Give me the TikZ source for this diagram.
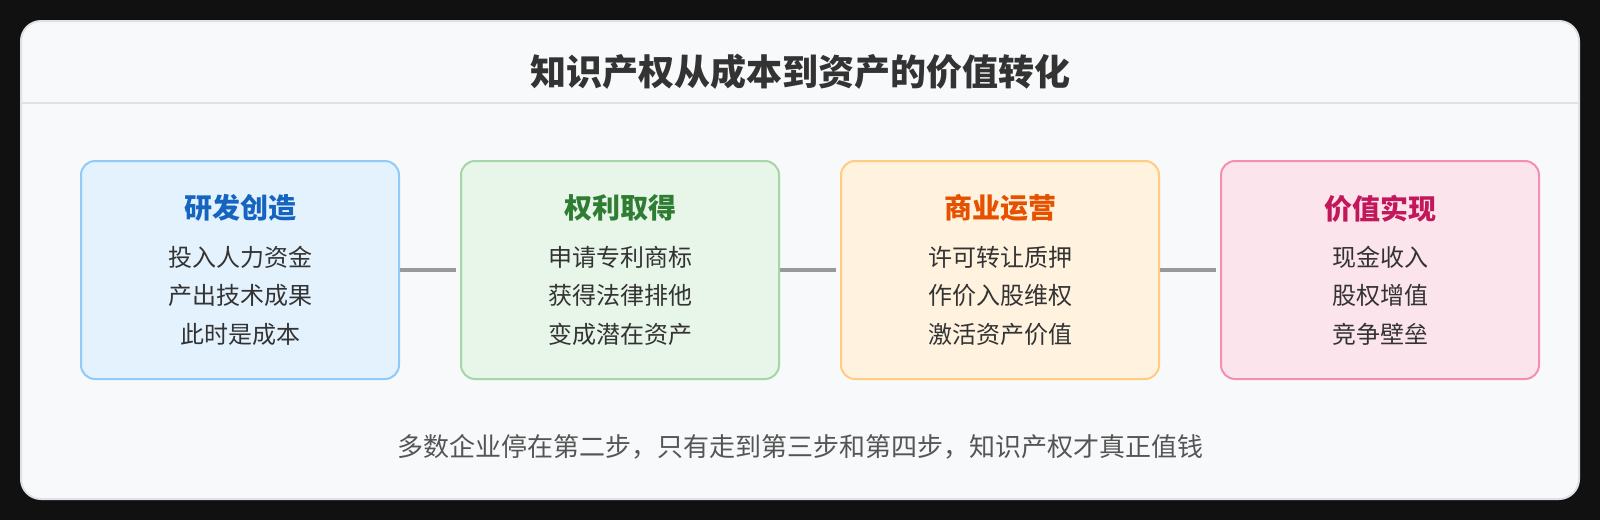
\documentclass[tikz,border=0pt]{standalone}
\usepackage{fontspec}
\setmainfont{Noto Sans CJK SC}
\usepackage{tikz}
\usetikzlibrary{positioning}
\definecolor{pagebg}{HTML}{111111}
\definecolor{cardbg}{HTML}{F8F9FA}
\definecolor{cardline}{HTML}{DEE1E6}
\definecolor{bodytext}{HTML}{333333}
\definecolor{notetext}{HTML}{555555}
\definecolor{linkgray}{HTML}{999999}
\definecolor{devfill}{HTML}{E3F2FD}\definecolor{devline}{HTML}{90CAF9}\definecolor{devtext}{HTML}{1565C0}
\definecolor{rightfill}{HTML}{E8F5E9}\definecolor{rightline}{HTML}{A5D6A7}\definecolor{righttext}{HTML}{2E7D32}
\definecolor{opsfill}{HTML}{FFF3E0}\definecolor{opsline}{HTML}{FFCC80}\definecolor{opstext}{HTML}{E65100}
\definecolor{valfill}{HTML}{FCE4EC}\definecolor{valline}{HTML}{F48FB1}\definecolor{valtext}{HTML}{C2185B}
\newcommand{\stagehead}[2]{{\fontsize{28}{28}\selectfont\bfseries\color{#1}#2}}

\begin{document}
\begin{tikzpicture}[x=1pt,y=-1pt,
  stage/.style={draw,rounded corners=14pt,line width=2pt,minimum width=318pt,minimum height=218pt,
    align=center,inner sep=0pt,text=bodytext,font=\fontsize{24}{38.4}\selectfont},
  link/.style={draw=linkgray,line width=4pt,shorten >=4pt}]
\useasboundingbox [fill=pagebg] (0,0) rectangle (1600,520);
\draw [fill=cardbg,draw=cardline,line width=2pt,rounded corners=20pt] (21,21) rectangle (1579,499);
\draw [cardline,line width=2pt] (22,103) coordinate (headl) -- (1578,103) coordinate (headr);
\node [font=\fontsize{36}{36}\selectfont\bfseries,text=bodytext] (title) at (800,72) {知识产权从成本到资产的价值转化};

\node [stage,fill=devfill,draw=devline] (dev) at (240,270)
  {\stagehead{devtext}{研发创造}\\[9pt]投入人力资金\\产出技术成果\\此时是成本};
\node [stage,fill=rightfill,draw=rightline,right=60pt of dev] (grant)
  {\stagehead{righttext}{权利取得}\\[9pt]申请专利商标\\获得法律排他\\变成潜在资产};
\node [stage,fill=opsfill,draw=opsline,right=60pt of grant] (ops)
  {\stagehead{opstext}{商业运营}\\[9pt]许可转让质押\\作价入股维权\\激活资产价值};
\node [stage,fill=valfill,draw=valline,right=60pt of ops] (value)
  {\stagehead{valtext}{价值实现}\\[9pt]现金收入\\股权增值\\竞争壁垒};

\draw [link] (dev) -- (grant);
\draw [link] (grant) -- (ops);
\draw [link] (ops) -- (value);

\node [font=\fontsize{26}{26}\selectfont,text=notetext] (note) at (800,447)
  {多数企业停在第二步，只有走到第三步和第四步，知识产权才真正值钱};
\end{tikzpicture}
\end{document}
